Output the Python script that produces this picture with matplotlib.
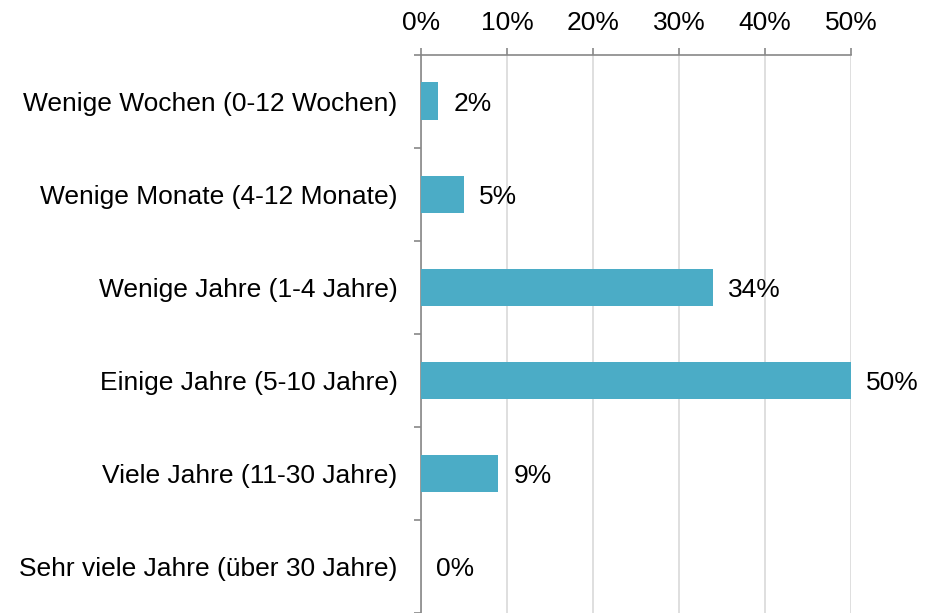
import matplotlib.pyplot as plt
from matplotlib.ticker import FixedLocator

plt.rcParams['font.family'] = ['Liberation Sans', 'DejaVu Sans']

categories = [
    "Wenige Wochen (0-12 Wochen)",
    "Wenige Monate (4-12 Monate)",
    "Wenige Jahre (1-4 Jahre)",
    "Einige Jahre (5-10 Jahre)",
    "Viele Jahre (11-30 Jahre)",
    "Sehr viele Jahre (über 30 Jahre)",
]
values = [2, 5, 34, 50, 9, 0]
xticks = [0, 10, 20, 30, 40, 50]
xtick_labels = ["0%", "10%", "20%", "30%", "40%", "50%"]

bar_color = "#4BACC6"
spine_color = "#888888"
grid_color = "#D9D9D9"
fsize = 19

fig = plt.figure(figsize=(9.25, 6.13), dpi=100)
ax = fig.add_axes([421 / 925, 0.0, 430 / 925, 1 - 54.5 / 613])

y = list(range(len(categories)))
ax.barh(y, values, height=0.4, color=bar_color, zorder=3)

# value labels to the right of each bar
for yi, v in zip(y, values):
    ax.annotate(f"{v}%", xy=(v, yi), xytext=(10.8, -2), textcoords="offset points",
                va="center", ha="left", fontsize=fsize, color="black")

ax.set_xlim(0, 50)
ax.set_ylim(len(categories) - 0.5, -0.5)

ax.xaxis.set_ticks_position("top")
ax.set_xticks(xticks)
ax.set_xticklabels(xtick_labels, fontsize=fsize)
ax.tick_params(axis="x", direction="out", length=5, width=1.2, color=spine_color, pad=9)
ax.grid(axis="x", color=grid_color, linewidth=1.2, zorder=0)

ax.set_yticks(y)
ax.set_yticklabels(categories, fontsize=fsize)
ax.tick_params(axis="y", which="major", length=0, pad=17)
ax.yaxis.set_minor_locator(FixedLocator([i - 0.5 for i in range(len(categories) + 1)]))
ax.tick_params(axis="y", which="minor", direction="out", length=5, width=1.2, color=spine_color)

for side in ["right", "bottom"]:
    ax.spines[side].set_visible(False)
for side in ["top", "left"]:
    ax.spines[side].set_color(spine_color)
    ax.spines[side].set_linewidth(1.2)

plt.savefig("out.png", dpi=100)
